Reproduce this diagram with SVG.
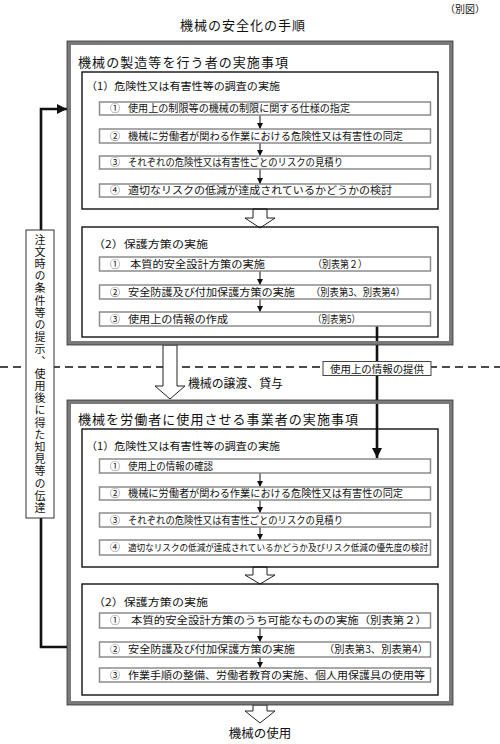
<svg xmlns="http://www.w3.org/2000/svg" width="500" height="744" viewBox="0 0 500 744">
<style>
text{font-family:"Noto Sans CJK JP","Noto Sans CJK SC",sans-serif;fill:#111}
.t{font-size:13px}
.h{font-size:10.5px}
.i{font-size:10px}
.outer{fill:none;stroke:#7a7a7a;stroke-width:4}
.outerEdge{fill:none;stroke:#333;stroke-width:0.8}
.inner{fill:none;stroke:#111;stroke-width:1.4}
.item{fill:#fff;stroke:#8c8c8c;stroke-width:1.5}
.hollow{fill:#fff;stroke:#222;stroke-width:1}
.thin{stroke:#111;stroke-width:1;fill:none}
.thick{stroke:#111;stroke-width:2.6;fill:none}
.vert{font-size:11px;letter-spacing:1.2px;writing-mode:vertical-rl}
</style>
<defs>
<marker id="sa" viewBox="0 0 10 10" refX="10" refY="5" markerWidth="6" markerHeight="6" markerUnits="userSpaceOnUse" orient="auto"><path d="M0,0L10,5L0,10z" fill="#111"/></marker>
<marker id="ba" viewBox="0 0 10 10" refX="10" refY="5" markerWidth="10" markerHeight="10" markerUnits="userSpaceOnUse" orient="auto"><path d="M0,0L10,5L0,10z" fill="#111"/></marker>
</defs>

<text x="485" y="13" font-size="10" text-anchor="end">（別図）</text>
<text x="180" y="30" class="t" textLength="125" lengthAdjust="spacing">機械の安全化の手順</text>

<line x1="0" y1="367" x2="500" y2="367" stroke="#111" stroke-width="1.3" stroke-dasharray="8 5"/>

<g id="connectors">
<line class="thin" x1="260" y1="115" x2="260" y2="129" marker-end="url(#sa)"/>
<line class="thin" x1="260" y1="143" x2="260" y2="156" marker-end="url(#sa)"/>
<line class="thin" x1="260" y1="169" x2="260" y2="184" marker-end="url(#sa)"/>
<line class="thin" x1="260" y1="271" x2="260" y2="285" marker-end="url(#sa)"/>
<line class="thin" x1="260" y1="299" x2="260" y2="312" marker-end="url(#sa)"/>
<line class="thin" x1="260" y1="473" x2="260" y2="487" marker-end="url(#sa)"/>
<line class="thin" x1="260" y1="500" x2="260" y2="513" marker-end="url(#sa)"/>
<line class="thin" x1="260" y1="527" x2="260" y2="540" marker-end="url(#sa)"/>
<line class="thin" x1="260" y1="628" x2="260" y2="642" marker-end="url(#sa)"/>
<line class="thin" x1="260" y1="657" x2="260" y2="668" marker-end="url(#sa)"/>
<polyline class="thick" points="377,326 377,458" marker-end="url(#ba)"/>
<polyline class="thick" points="68,647 41,647 41,109 67,109" marker-end="url(#ba)"/>
<polygon class="hollow" points="253,209 267,209 267,218 275,218 260,228 245,218 253,218"/>
<polygon class="hollow" points="253,567 267,567 267,575 275,575 260,584 245,575 253,575"/>
<polygon class="hollow" points="253,705 267,705 267,711 275,711 260,723 245,711 253,711"/>
<polygon class="hollow" points="163,345 177,345 177,386 185,386 170,399 155,386 163,386"/>
</g>

<g id="maker">
<rect class="outer" x="69" y="43" width="382" height="300"/>
<rect class="outerEdge" x="67" y="41" width="386" height="304"/>
<text x="78" y="67" class="t" textLength="210" lengthAdjust="spacing">機械の製造等を行う者の実施事項</text>
</g>

<g id="maker-survey">
<rect class="inner" x="82" y="72" width="356" height="137"/>
<text x="86" y="90" class="h" textLength="194" lengthAdjust="spacingAndGlyphs">（1）危険性又は有害性等の調査の実施</text>
<rect class="item" x="99.5" y="102" width="331" height="13"/>
<text x="110" y="112" class="i">①</text>
<text x="128" y="112" class="i" textLength="222" lengthAdjust="spacingAndGlyphs">使用上の制限等の機械の制限に関する仕様の指定</text>
<rect class="item" x="99.5" y="129" width="331" height="14"/>
<text x="110" y="140" class="i">②</text>
<text x="128" y="140" class="i" textLength="275" lengthAdjust="spacingAndGlyphs">機械に労働者が関わる作業における危険性又は有害性の同定</text>
<rect class="item" x="99.5" y="156" width="331" height="13"/>
<text x="110" y="166" class="i">③</text>
<text x="128" y="166" class="i" textLength="215" lengthAdjust="spacingAndGlyphs">それぞれの危険性又は有害性ごとのリスクの見積り</text>
<rect class="item" x="99.5" y="184" width="331" height="13"/>
<text x="110" y="194" class="i">④</text>
<text x="128" y="194" class="i" textLength="264" lengthAdjust="spacingAndGlyphs">適切なリスクの低減が達成されているかどうかの検討</text>
</g>

<g id="maker-protect">
<rect class="inner" x="82" y="227" width="356" height="110"/>
<text x="93" y="248" class="h" textLength="115" lengthAdjust="spacingAndGlyphs">（2）保護方策の実施</text>
<rect class="item" x="99.5" y="257" width="331" height="14"/>
<text x="110" y="268" class="i">①</text>
<text x="130" y="268" class="i" textLength="135" lengthAdjust="spacingAndGlyphs">本質的安全設計方策の実施</text>
<text x="313" y="268" class="i" textLength="54" lengthAdjust="spacingAndGlyphs">（別表第２）</text>
<rect class="item" x="99.5" y="285" width="331" height="14"/>
<text x="110" y="296" class="i">②</text>
<text x="128" y="296" class="i" textLength="167" lengthAdjust="spacingAndGlyphs">安全防護及び付加保護方策の実施</text>
<text x="311" y="296" class="i" textLength="94" lengthAdjust="spacingAndGlyphs">（別表第3、別表第4）</text>
<rect class="item" x="99.5" y="312" width="331" height="14"/>
<text x="110" y="323" class="i">③</text>
<text x="128" y="323" class="i" textLength="100" lengthAdjust="spacingAndGlyphs">使用上の情報の作成</text>
<text x="313" y="323" class="i" textLength="47" lengthAdjust="spacingAndGlyphs">（別表第5）</text>
</g>

<text x="188" y="388" font-size="12" textLength="95" lengthAdjust="spacingAndGlyphs">機械の譲渡、貸与</text>

<g id="info-label">
<rect x="323" y="361.5" width="108" height="14" fill="#fff" stroke="#444" stroke-width="1"/>
<text x="330" y="372.5" class="i" textLength="94" lengthAdjust="spacingAndGlyphs">使用上の情報の提供</text>
</g>

<g id="feedback-label">
<rect x="26" y="230" width="28" height="288" fill="#fff" stroke="#333" stroke-width="1"/>
<text x="40" y="234" class="vert">注文時の条件等の提示、使用後に得た知見等の伝達</text>
</g>

<g id="user">
<rect class="outer" x="69" y="402" width="382" height="301"/>
<rect class="outerEdge" x="67" y="400" width="386" height="305"/>
<text x="78" y="424" class="t" textLength="280" lengthAdjust="spacing">機械を労働者に使用させる事業者の実施事項</text>
</g>

<g id="user-survey">
<rect class="inner" x="82" y="429" width="356" height="138"/>
<text x="86" y="450" class="h" textLength="194" lengthAdjust="spacingAndGlyphs">（1）危険性又は有害性等の調査の実施</text>
<rect class="item" x="99.5" y="459" width="331" height="14"/>
<text x="110" y="470" class="i">①</text>
<text x="128" y="470" class="i" textLength="85" lengthAdjust="spacingAndGlyphs">使用上の情報の確認</text>
<rect class="item" x="99.5" y="487" width="331" height="13"/>
<text x="110" y="497" class="i">②</text>
<text x="128" y="497" class="i" textLength="275" lengthAdjust="spacingAndGlyphs">機械に労働者が関わる作業における危険性又は有害性の同定</text>
<rect class="item" x="99.5" y="513" width="331" height="14"/>
<text x="110" y="524" class="i">③</text>
<text x="128" y="524" class="i" textLength="215" lengthAdjust="spacingAndGlyphs">それぞれの危険性又は有害性ごとのリスクの見積り</text>
<rect class="item" x="99.5" y="540" width="331" height="15"/>
<text x="110" y="551" class="i">④</text>
<text x="128" y="551" font-size="9.5" textLength="300" lengthAdjust="spacingAndGlyphs">適切なリスクの低減が達成されているかどうか及びリスク低減の優先度の検討</text>
</g>

<g id="user-protect">
<rect class="inner" x="82" y="584" width="356" height="111"/>
<text x="93" y="606" class="h" textLength="115" lengthAdjust="spacingAndGlyphs">（2）保護方策の実施</text>
<rect class="item" x="99.5" y="613" width="331" height="15"/>
<text x="110" y="624" class="i">①</text>
<text x="131" y="624" class="i" textLength="296" lengthAdjust="spacingAndGlyphs">本質的安全設計方策のうち可能なものの実施（別表第２）</text>
<rect class="item" x="99.5" y="642" width="331" height="15"/>
<text x="110" y="653" class="i">②</text>
<text x="128" y="653" class="i" textLength="167" lengthAdjust="spacingAndGlyphs">安全防護及び付加保護方策の実施</text>
<text x="324" y="653" class="i" textLength="104" lengthAdjust="spacingAndGlyphs">（別表第3、別表第4）</text>
<rect class="item" x="99.5" y="668" width="331" height="14"/>
<text x="110" y="679" class="i">③</text>
<text x="128" y="679" class="i" textLength="297" lengthAdjust="spacingAndGlyphs">作業手順の整備、労働者教育の実施、個人用保護具の使用等</text>
</g>

<text x="260" y="738" font-size="12.5" text-anchor="middle">機械の使用</text>
</svg>
